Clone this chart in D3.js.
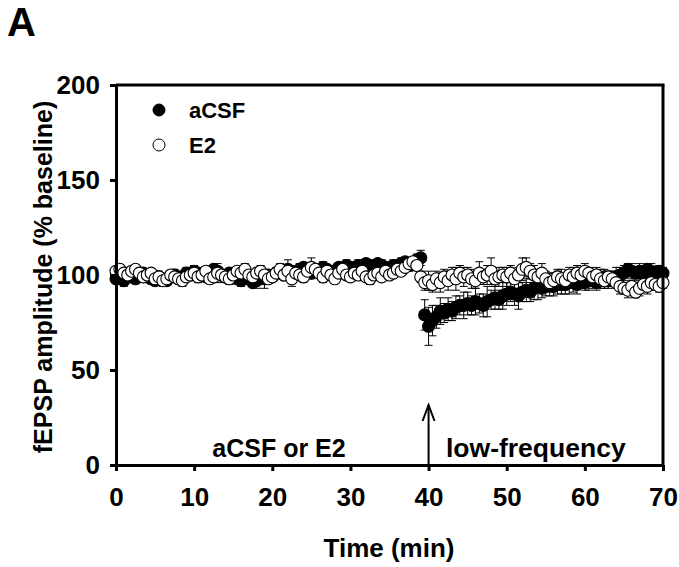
<!DOCTYPE html>
<html><head><meta charset="utf-8">
<script src="https://cdn.jsdelivr.net/npm/d3@7"></script>
<style>
body{margin:0;background:#fff;}
text{font-family:"Liberation Sans",Arial,sans-serif;font-weight:bold;fill:#000;}
</style></head>
<body><svg id="c" width="679" height="567"></svg>
<script>
// time points every 0.5 min from 0 to 70
const times = d3.range(0, 70.01, 0.5);
const acsf = [
 98, 99, 97,100, 99, 98,100,101, 99, 98,
 97, 99, 98, 97, 99,100, 98, 99,101,100,
102,101,100, 99,101,103,102,100, 99,101,
100, 98, 97, 99, 98, 96, 97, 99, 98,100,
 99,101,102,100,103,102,101,103,104,102,
101,103,102,104,103,101,102,104,103,105,
104,103,105,104,106,105,104,106,105,104,
103,105,104,106,107,105,106,108,109, 79,
 73, 76, 78, 81, 80, 82, 81, 83, 84, 84,
 85, 84, 86, 85, 84, 86, 87, 88, 87, 89,
 90, 91, 90, 89, 91, 92, 91, 93, 94, 93,
 94, 95, 94, 96, 95, 95, 96, 96, 95, 97,
 96, 97, 97, 96, 98, 99, 97, 98, 99,100,
101,103,102,101,102,101,103,102,101,102,
101];
const acsfErr = [
 2,2,3,2,2,2,3,2,2,2,
 2,3,2,2,2,3,2,2,3,2,
 3,2,2,2,3,2,2,2,3,2,
 2,2,3,2,2,2,4,2,5,2,
 2,3,2,2,5,2,2,3,2,2,
 3,2,2,3,2,2,3,2,2,3,
 2,2,3,2,2,3,2,2,3,2,
 2,3,2,3,2,3,2,3,4,8,
 10,8,6,7,5,6,5,6,5,7,
 6,5,7,5,6,8,5,6,5,7,
 6,5,6,7,5,6,5,6,7,5,
 5,6,5,6,5,5,6,5,5,4,
 4,5,4,4,5,4,4,4,5,4,
 4,3,4,3,4,3,3,4,3,3,
 3];
const e2 = [
102,103,101,100,102,103,101, 99,100,101,
 98, 99, 97, 98,100, 99, 98, 97, 99,100,
101, 99,100,102, 98, 99,101,100, 99, 98,
100,102,101,103,100, 99,101,102,100, 98,
 99,101,103,100,102, 98,101,100, 99,102,
104,103,101, 99,102,100, 98,101,103,100,
 99,101,100,102, 99, 98,100,101, 99,102,
100,101,103,102,104,106,107,105, 99, 96,
 97, 95, 98, 96, 99, 97,100, 98,101, 99,
100, 98, 97,101, 99,100,102, 98, 99,100,
 99,101, 98,100,103,104,102,100, 99,101,
 98, 96, 97, 99, 98, 97,100, 99,101,100,
102,101, 99,100, 98, 97, 99, 98, 96, 94,
 93, 92, 94, 91, 93, 95, 94, 96, 95, 94,
 96];
const e2Err = [
 2,2,2,3,2,2,2,2,3,2,
 2,2,3,2,2,2,2,3,2,2,
 2,3,2,2,2,2,5,2,2,3,
 2,2,2,3,2,2,2,3,2,2,
 2,2,3,2,2,4,2,2,3,2,
 5,2,2,3,2,2,2,3,2,2,
 2,3,2,2,2,3,2,2,2,3,
 2,2,3,2,2,3,2,2,3,4,
 5,4,4,5,4,5,4,6,4,5,
 4,5,4,6,4,5,7,4,5,4,
 5,4,5,4,6,5,4,5,4,5,
 4,5,4,4,5,4,4,5,4,4,
 4,3,4,4,3,4,3,4,3,4,
 3,4,3,3,4,3,4,3,3,3,
 3];
const xTicks = [0,10,20,30,40,50,60,70];
const yTicks = [0,50,100,150,200];
const seriesNames = ["aCSF","E2"];
const annoLeft = "aCSF or E2";
const annoRight = "low-frequency";
const stimTime = 40;

const svg = d3.select("#c");
const x = d3.scaleLinear().domain([0,70]).range([116,663]);
const y = d3.scaleLinear().domain([0,200]).range([465,85]);

svg.append("text").attr("x",7).attr("y",36).attr("font-size",40).text("A");

const R = 6;
const series = [
  {name:seriesNames[0], vals:acsf, err:acsfErr, fill:"#000"},
  {name:seriesNames[1], vals:e2, err:e2Err, fill:"#fff"}
];
series.forEach(s=>{
  const g = svg.append("g");
  const data = times.map((t,i)=>({t, v:s.vals[i], e:s.err[i]}));
  const eb = g.append("g").attr("stroke","#000").attr("stroke-width",1);
  data.forEach(d=>{
    eb.append("line").attr("x1",x(d.t)).attr("x2",x(d.t)).attr("y1",y(d.v-d.e)).attr("y2",y(d.v+d.e));
    eb.append("line").attr("x1",x(d.t)-4).attr("x2",x(d.t)+4).attr("y1",y(d.v+d.e)).attr("y2",y(d.v+d.e));
    eb.append("line").attr("x1",x(d.t)-4).attr("x2",x(d.t)+4).attr("y1",y(d.v-d.e)).attr("y2",y(d.v-d.e));
  });
  g.selectAll("circle").data(data).join("circle")
    .attr("cx",d=>x(d.t)).attr("cy",d=>y(d.v)).attr("r",R)
    .attr("fill",s.fill).attr("stroke","#000").attr("stroke-width",1.1);
});

// axes
const ax = svg.append("g").attr("transform","translate(0,465)")
  .call(d3.axisBottom(x).tickValues(xTicks).tickSize(6).tickPadding(17).tickSizeOuter(0));
const ay = svg.append("g").attr("transform","translate(116,0)")
  .call(d3.axisLeft(y).tickValues(yTicks).tickSize(6).tickPadding(10).tickSizeOuter(0));
[ax,ay].forEach(a=>{
  a.select(".domain").attr("stroke","#000").attr("stroke-width",3);
  a.selectAll(".tick line").attr("stroke","#000").attr("stroke-width",3);
  a.selectAll("text").attr("font-size",26).attr("font-family",'"Liberation Sans",Arial,sans-serif').attr("font-weight","bold");
});
svg.append("line").attr("x1",x(0)).attr("x2",x(70)+1.5).attr("y1",y(200)).attr("y2",y(200)).attr("stroke","#000").attr("stroke-width",3);
svg.append("line").attr("x1",x(70)).attr("x2",x(70)).attr("y1",y(200)).attr("y2",y(0)).attr("stroke","#000").attr("stroke-width",3);

// titles
svg.append("text").attr("x",389).attr("y",557).attr("text-anchor","middle").attr("font-size",26).text("Time (min)");
svg.append("text").attr("transform","translate(52,277) rotate(-90)").attr("text-anchor","middle").attr("font-size",25).text("fEPSP amplitude (% baseline)");

// legend
svg.append("circle").attr("cx",159).attr("cy",110).attr("r",R).attr("fill","#000").attr("stroke","#000");
svg.append("text").attr("x",189).attr("y",118).attr("font-size",22).text(seriesNames[0]);
svg.append("circle").attr("cx",159).attr("cy",145).attr("r",R).attr("fill","#fff").attr("stroke","#000");
svg.append("text").attr("x",189).attr("y",153).attr("font-size",22).text(seriesNames[1]);

// annotation
svg.append("text").attr("x",279).attr("y",457).attr("text-anchor","middle").attr("font-size",25).text(annoLeft);
svg.append("text").attr("x",446).attr("y",457).attr("font-size",26.5).text(annoRight);
const ax0 = x(stimTime);
svg.append("line").attr("x1",ax0).attr("x2",ax0).attr("y1",464).attr("y2",405).attr("stroke","#000").attr("stroke-width",2);
svg.append("path").attr("d",`M${ax0-6},${421} L${ax0},${405} L${ax0+6},${421}`).attr("fill","none").attr("stroke","#000").attr("stroke-width",2);
</script></body></html>
